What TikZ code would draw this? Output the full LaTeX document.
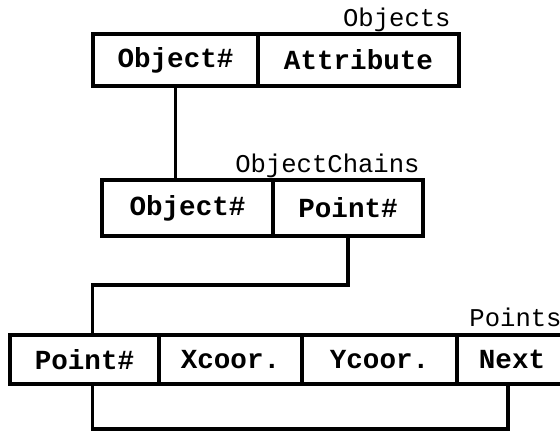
\documentclass[tikz,border=0pt]{standalone}
\usepackage{fontspec}
\setmonofont{Liberation Mono}
\usetikzlibrary{positioning,calc}
\tikzstyle{cell}=[shape=rectangle,draw=black,line width=1.8pt,outer sep=0pt,inner sep=0pt,font=\fontsize{13.8}{16}\selectfont\ttfamily\bfseries]
\tikzstyle{tablename}=[font=\fontsize{12.8}{15}\selectfont\ttfamily,inner sep=1pt,anchor=south east]
\tikzstyle{link}=[line width=1.8pt]

\begin{document}
\begin{tikzpicture}[x=0.5pt,y=-0.5pt]
\useasboundingbox (0,0) rectangle (560,431);

% Objects
\node[cell,minimum width=82.5pt,minimum height=26pt,anchor=north west] (OBJID) at (93,34){Object\#};
\node[cell,minimum width=100.5pt,minimum height=26pt,anchor=west] (OBJATTR) at (OBJID.east){Attribute};
\node[tablename,xshift=-3pt] (OBJNAME) at (OBJATTR.north east){Objects};

% ObjectChains
\node[cell,minimum width=85.5pt,minimum height=28pt,anchor=north west] (CHOBJ) at (102,180){Object\#};
\node[cell,minimum width=75pt,minimum height=28pt,anchor=west] (CHPT) at (CHOBJ.east){Point\#};
\node[tablename,xshift=-0.5pt] (CHNAME) at (CHPT.north east){ObjectChains};

% Points
\node[cell,minimum width=74.5pt,minimum height=24.5pt,anchor=north west] (PTID) at (10,335){Point\#};
\node[cell,minimum width=71.5pt,minimum height=24.5pt,anchor=west] (PTX) at (PTID.east){Xcoor.};
\node[cell,minimum width=77.5pt,minimum height=24.5pt,anchor=west] (PTY) at (PTX.east){Ycoor.};
\node[cell,minimum width=55pt,minimum height=24.5pt,anchor=west] (NEXT) at (PTY.east){Next};
\node[tablename,xshift=-1.5pt,yshift=3pt] (PTNAME) at (NEXT.north east){Points};

% link end points on the Points table
\coordinate (PTIN) at ([xshift=4pt]PTID.north);
\coordinate (PTOUT) at ([xshift=4pt]PTID.south);
\coordinate (NEXTIN) at ([xshift=-2pt]NEXT.south);
\coordinate (JOIN) at (0,285);
\coordinate (FOOT) at (0,429);

\draw[link] (OBJID.south) -- (OBJID.south |- CHOBJ.north);
\draw[link] (CHPT.south) |- (JOIN -| PTIN) -- (PTIN);
\draw[link] (PTOUT) |- (FOOT -| NEXTIN) -- (NEXTIN);

\end{tikzpicture}
\end{document}
